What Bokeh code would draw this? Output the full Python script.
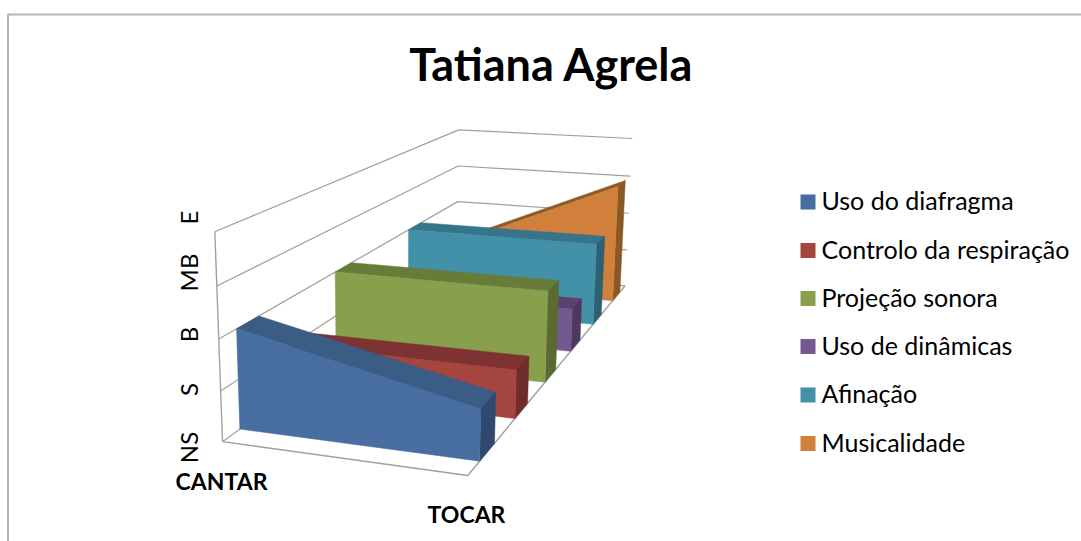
import numpy as np
from bokeh.plotting import figure
from bokeh.models import Range1d
from bokeh.core.properties import value
from bokeh.embed import file_html
from bokeh.resources import INLINE

# ---- data ----
categories = ["CANTAR", "TOCAR"]
levels = ["NS", "S", "B", "MB", "E"]
series_names = ["Uso do diafragma", "Controlo da respiração", "Projeção sonora",
                "Uso de dinâmicas", "Afinação", "Musicalidade"]
cantar = [2, 1, 2, 1, 2, 1]
tocar = [1, 1, 2, 1, 2, 3]
title = "Tatiana Agrela"

# ---- styles ----
front_col = ["#486DA1", "#A5453F", "#88A04C", "#73598F", "#4391A9", "#D0803A"]
top_col = ["#3A5C85", "#7E3332", "#687C3A", "#59426E", "#35748A", "#8F5A27"]
side_col = ["#2E4870", "#702C2B", "#5A6A30", "#4E3860", "#2C6072", "#8A5726"]
grid_col = "#A0A0A0"
font = "Lato"

W, H = 1081, 541

# ---- a perspective camera fitted to the frame of the 3D box ----
# (category 0..1, level 0..4, depth 0..6) -> picture pixel
calib = [((0, 0, 0), (222, 442)), ((1, 0, 0), (467, 475)), ((0, 1, 0), (220, 390)),
         ((0, 2, 0), (218.7, 338)), ((0, 3, 0), (216.7, 285.7)), ((0, 4, 0), (214, 231)),
         ((0, 4, 6), (458, 129)), ((0, 3, 6), (457, 166)), ((0, 2, 6), (458, 201)),
         ((1, 4, 6), (632, 138)), ((1, 3, 6), (630, 176)), ((1, 2, 6), (628, 213)),
         ((1, 1, 6), (627, 249)), ((1, 0, 6), (624, 285))]
A, b = [], []
for (X, Y, Z), (u, v) in calib:
    A.append([X, Y, Z, 1, 0, 0, 0, 0, -u * X, -u * Y, -u * Z]); b.append(u)
    A.append([0, 0, 0, 0, X, Y, Z, 1, -v * X, -v * Y, -v * Z]); b.append(v)
cam = np.append(np.linalg.lstsq(np.array(A, float), np.array(b, float), rcond=None)[0], 1.0).reshape(3, 4)


def project(points):
    q = cam @ np.column_stack([np.array(points, float), np.ones(len(points))]).T
    return (q[0] / q[2]).tolist(), (q[1] / q[2]).tolist()


p = figure(width=W, height=H, output_backend="svg", toolbar_location=None,
           x_range=Range1d(0, W), y_range=Range1d(H, 0),
           min_border=0, outline_line_color=None, background_fill_color="white",
           border_fill_color="white")
p.axis.visible = False
p.grid.visible = False

# outer frame of the chart
p.line([7.5, 7.5], [14, H], line_color="#B4B4B4", line_width=2)
p.line([7, W], [14, 14], line_color="#B4B4B4", line_width=2)

# walls and floor
for lv in range(len(levels)):
    x, y = project([(0, lv, 0), (0, lv, 6), (1, lv, 6)])
    p.line(x, y, line_color=grid_col, line_width=1.2)
x, y = project([(0, 4, 0), (0, 0, 0), (1, 0, 0), (1, 0, 6)])
p.line(x, y, line_color=grid_col, line_width=1.4)

# series, far to near
Z_A, Z_B = 0.30, 0.70
for i in range(len(series_names) - 1, -1, -1):
    v0, v1 = cantar[i], tocar[i]
    z0, z1 = i + Z_A, i + Z_B
    faces = [([(0, v0, z0), (1, v1, z0), (1, v1, z1), (0, v0, z1)], top_col[i]),
             ([(1, 0, z0), (1, v1, z0), (1, v1, z1), (1, 0, z1)], side_col[i]),
             ([(0, 0, z0), (1, 0, z0), (1, v1, z0), (0, v0, z0)], front_col[i])]
    for pts, col in faces:
        x, y = project(pts)
        p.patch(x, y, fill_color=col, line_color=col, line_width=0.5)

# value labels
tick_y = [447, 389, 334, 272, 217]
p.text([188] * 5, tick_y, text=levels, angle=np.pi / 2, text_align="center",
       text_baseline="middle", text_font=value(font), text_font_size="24px", text_color="#000000")

# category labels
p.text([221, 466], [480, 513], text=categories, text_align="center", text_baseline="middle",
       text_font=value(font), text_font_style="bold", text_font_size="23px", text_color="#000000")

# title
p.text([551], [63], text=[title], text_align="center", text_baseline="middle",
       text_font=value(font), text_font_style="bold", text_font_size="45px", text_color="#000000")

# legend
leg_y = [201.5, 250, 298, 346, 394.5, 443]
text_y = [199.5, 248, 296, 344, 392.5, 441]
p.rect([807.5] * 6, leg_y, width=15, height=15, fill_color=front_col, line_color=None)
p.text([821] * 6, text_y, text=series_names, text_align="left", text_baseline="middle",
       text_font=value(font), text_font_size="25px", text_color="#000000")

open("out.html", "w").write(file_html(p, INLINE))
